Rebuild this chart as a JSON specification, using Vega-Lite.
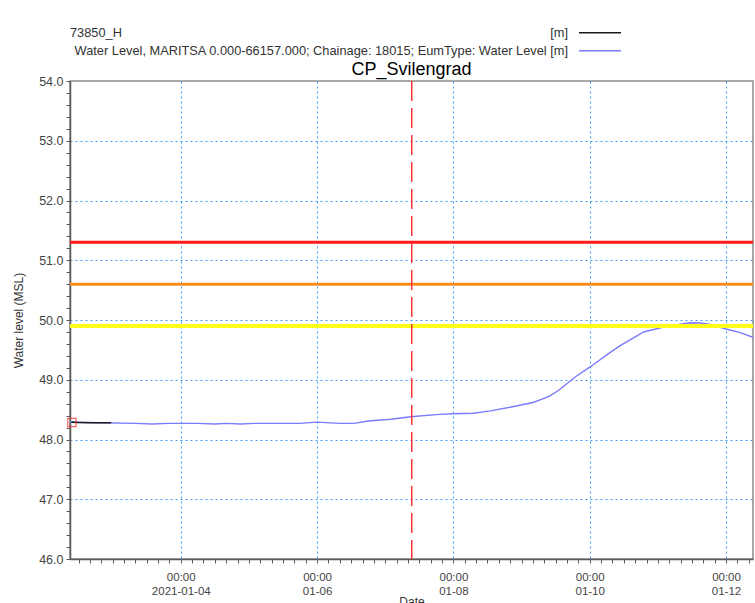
{
  "$schema": "https://vega.github.io/schema/vega-lite/v6.json",
  "width": 683,
  "height": 478,
  "autosize": {"type": "none"},
  "padding": {"left": 70, "top": 81, "right": 2, "bottom": 44},
  "background": "white",
  "title": {"text": "CP_Svilengrad", "fontSize": 18, "font": "Liberation Sans", "fontWeight": "normal", "color": "#000000", "anchor": "middle", "offset": -52},
  "config": {
    "font": "Liberation Sans",
    "view": {"stroke": "#8c8c8c", "strokeWidth": 1.5},
    "axis": {"domainColor": "#5a5a5a", "domainWidth": 1.5, "tickColor": "#5a5a5a", "labelColor": "#444444", "titleColor": "#333333", "labelFont": "Liberation Sans", "titleFont": "Liberation Sans", "titleFontWeight": "normal", "gridColor": "#3b9dff", "gridDash": [2, 3], "gridWidth": 1}
  },
  "datasets": {
    "sim": [
      {"t": "2021-01-02T09:00:00Z", "v": 48.29},
      {"t": "2021-01-02T20:00:00Z", "v": 48.28},
      {"t": "2021-01-03T08:00:00Z", "v": 48.27},
      {"t": "2021-01-03T14:00:00Z", "v": 48.26},
      {"t": "2021-01-03T20:00:00Z", "v": 48.27},
      {"t": "2021-01-04T06:00:00Z", "v": 48.27},
      {"t": "2021-01-04T12:00:00Z", "v": 48.26},
      {"t": "2021-01-04T16:00:00Z", "v": 48.27},
      {"t": "2021-01-04T21:00:00Z", "v": 48.26},
      {"t": "2021-01-05T02:00:00Z", "v": 48.27},
      {"t": "2021-01-05T12:00:00Z", "v": 48.27},
      {"t": "2021-01-05T18:00:00Z", "v": 48.27},
      {"t": "2021-01-06T00:00:00Z", "v": 48.29},
      {"t": "2021-01-06T08:00:00Z", "v": 48.27},
      {"t": "2021-01-06T13:00:00Z", "v": 48.27},
      {"t": "2021-01-06T18:00:00Z", "v": 48.31},
      {"t": "2021-01-07T02:00:00Z", "v": 48.34},
      {"t": "2021-01-07T09:00:00Z", "v": 48.38},
      {"t": "2021-01-07T19:00:00Z", "v": 48.42},
      {"t": "2021-01-08T00:00:00Z", "v": 48.43},
      {"t": "2021-01-08T07:00:00Z", "v": 48.44},
      {"t": "2021-01-08T13:00:00Z", "v": 48.48},
      {"t": "2021-01-08T20:00:00Z", "v": 48.54},
      {"t": "2021-01-09T04:00:00Z", "v": 48.62},
      {"t": "2021-01-09T07:00:00Z", "v": 48.67},
      {"t": "2021-01-09T10:00:00Z", "v": 48.73},
      {"t": "2021-01-09T13:00:00Z", "v": 48.82},
      {"t": "2021-01-09T19:00:00Z", "v": 49.05},
      {"t": "2021-01-10T00:00:00Z", "v": 49.21},
      {"t": "2021-01-10T07:00:00Z", "v": 49.45},
      {"t": "2021-01-10T11:00:00Z", "v": 49.58},
      {"t": "2021-01-10T15:00:00Z", "v": 49.69},
      {"t": "2021-01-10T19:00:00Z", "v": 49.8},
      {"t": "2021-01-11T01:00:00Z", "v": 49.87},
      {"t": "2021-01-11T04:00:00Z", "v": 49.9},
      {"t": "2021-01-11T08:00:00Z", "v": 49.93},
      {"t": "2021-01-11T11:00:00Z", "v": 49.955},
      {"t": "2021-01-11T15:00:00Z", "v": 49.95},
      {"t": "2021-01-11T18:00:00Z", "v": 49.93},
      {"t": "2021-01-12T00:00:00Z", "v": 49.85},
      {"t": "2021-01-12T05:00:00Z", "v": 49.79},
      {"t": "2021-01-12T09:30:00Z", "v": 49.71}
    ],
    "obs": [
      {"t": "2021-01-02T09:30:00Z", "v": 48.29},
      {"t": "2021-01-02T12:00:00Z", "v": 48.285},
      {"t": "2021-01-02T16:00:00Z", "v": 48.28},
      {"t": "2021-01-02T20:00:00Z", "v": 48.28},
      {"t": "2021-01-02T23:30:00Z", "v": 48.28}
    ]
  },
  "layer": [
    {
      "data": {"name": "sim"},
      "mark": {"type": "line", "strokeWidth": 1.4, "clip": true},
      "encoding": {
        "x": {
          "field": "t", "type": "temporal",
          "scale": {"type": "utc", "domain": [1609578000000, 1610443800000]},
          "axis": {
            "title": "Date", "titleFontSize": 12, "titlePadding": 0,
            "tickCount": 1000,
            "values": [1609588800000, 1609603200000, 1609617600000, 1609632000000, 1609646400000, 1609660800000, 1609675200000, 1609689600000, 1609704000000, 1609718400000, 1609732800000, 1609747200000, 1609761600000, 1609776000000, 1609790400000, 1609804800000, 1609819200000, 1609833600000, 1609848000000, 1609862400000, 1609876800000, 1609891200000, 1609905600000, 1609920000000, 1609934400000, 1609948800000, 1609963200000, 1609977600000, 1609992000000, 1610006400000, 1610020800000, 1610035200000, 1610049600000, 1610064000000, 1610078400000, 1610092800000, 1610107200000, 1610121600000, 1610136000000, 1610150400000, 1610164800000, 1610179200000, 1610193600000, 1610208000000, 1610222400000, 1610236800000, 1610251200000, 1610265600000, 1610280000000, 1610294400000, 1610308800000, 1610323200000, 1610337600000, 1610352000000, 1610366400000, 1610380800000, 1610395200000, 1610409600000, 1610424000000, 1610438400000],
            "labelExpr": "utchours(datum.value) == 0 && utcdate(datum.value) % 2 == 0 ? ['00:00', utcdate(datum.value) == 4 ? utcFormat(datum.value, '%Y-%m-%d') : utcFormat(datum.value, '%m-%d')] : ''",
            "labelOverlap": false, "labelFlush": false, "labelBound": false,
            "labelFontSize": 11.5, "labelLineHeight": 14, "labelPadding": 8,
            "tickSize": 4,
            "grid": true,
            "gridOpacity": {"condition": {"test": "utchours(datum.value) == 0 && utcdate(datum.value) % 2 == 0", "value": 1}, "value": 0}
          }
        },
        "y": {
          "field": "v", "type": "quantitative",
          "scale": {"domain": [46, 54], "zero": false, "nice": false},
          "axis": {
            "title": "Water level (MSL)", "titleFontSize": 12, "titlePadding": 13,
            "tickCount": 1000,
            "values": [46, 46.2, 46.4, 46.6, 46.8, 47, 47.2, 47.4, 47.6, 47.8, 48, 48.2, 48.4, 48.6, 48.8, 49, 49.2, 49.4, 49.6, 49.8, 50, 50.2, 50.4, 50.6, 50.8, 51, 51.2, 51.4, 51.6, 51.8, 52, 52.2, 52.4, 52.6, 52.8, 53, 53.2, 53.4, 53.6, 53.8, 54],
            "labelExpr": "abs(datum.value - round(datum.value)) < 0.001 ? format(datum.value, '.1f') : ''",
            "labelOverlap": false, "labelFlush": false, "labelFontSize": 12.5, "labelPadding": 3,
            "tickSize": 4,
            "grid": true,
            "gridOpacity": {"condition": {"test": "abs(datum.value - round(datum.value)) < 0.001 && datum.value > 46.5 && datum.value < 53.5", "value": 1}, "value": 0}
          }
        },
        "color": {
          "datum": "Water Level, MARITSA 0.000-66157.000; Chainage: 18015; EumType: Water Level [m]",
          "scale": {"domain": ["[m]", "Water Level, MARITSA 0.000-66157.000; Chainage: 18015; EumType: Water Level [m]"], "range": ["#1a1a1a", "#7b7bff"]},
          "legend": {
            "orient": "none", "legendX": 0, "legendY": -54, "padding": 0,
            "title": "73850_H", "titleOrient": "top", "titleAnchor": "start", "titleBaseline": "top", "titlePadding": -15,
            "titleFontSize": 12.8, "titleFontWeight": "normal", "titleColor": "#333333", "titleFont": "Liberation Sans",
            "symbolType": "M-3,0H3", "symbolSize": 196, "symbolStrokeWidth": 1.5, "symbolOffset": 522,
            "labelAlign": "right", "labelOffset": -40, "labelFontSize": 12.8, "labelColor": "#333333", "labelLimit": 800, "labelFont": "Liberation Sans",
            "rowPadding": 3
          }
        }
      }
    },
    {
      "data": {"name": "obs"},
      "mark": {"type": "line", "strokeWidth": 1.6, "clip": true},
      "encoding": {
        "x": {"field": "t", "type": "temporal", "title": "Date"},
        "y": {"field": "v", "type": "quantitative", "title": "Water level (MSL)"},
        "color": {"datum": "[m]"}
      }
    },
    {
      "data": {"values": [{"v": 51.3}]},
      "mark": {"type": "rule", "color": "#ff1a1a", "strokeWidth": 3},
      "encoding": {"y": {"field": "v", "type": "quantitative", "title": "Water level (MSL)"}}
    },
    {
      "data": {"values": [{"v": 50.6}]},
      "mark": {"type": "rule", "color": "#ff8c1a", "strokeWidth": 3},
      "encoding": {"y": {"field": "v", "type": "quantitative", "title": "Water level (MSL)"}}
    },
    {
      "data": {"values": [{"v": 49.9}]},
      "mark": {"type": "rule", "color": "#ffff1a", "strokeWidth": 4},
      "encoding": {"y": {"field": "v", "type": "quantitative", "title": "Water level (MSL)"}}
    },
    {
      "data": {"values": [{"t": "2021-01-07T09:20:00Z"}]},
      "mark": {"type": "rule", "color": "#ff3333", "strokeWidth": 1.5, "strokeDash": [20, 7]},
      "encoding": {"x": {"field": "t", "type": "temporal", "title": "Date"}}
    },
    {
      "data": {"values": [{"t": "2021-01-02T09:40:00Z", "v": 48.285}]},
      "mark": {"type": "point", "shape": "square", "size": 70, "filled": false, "color": "#ff2020", "strokeWidth": 1.2},
      "encoding": {
        "x": {"field": "t", "type": "temporal", "title": "Date"},
        "y": {"field": "v", "type": "quantitative", "title": "Water level (MSL)"}
      }
    }
  ]
}
